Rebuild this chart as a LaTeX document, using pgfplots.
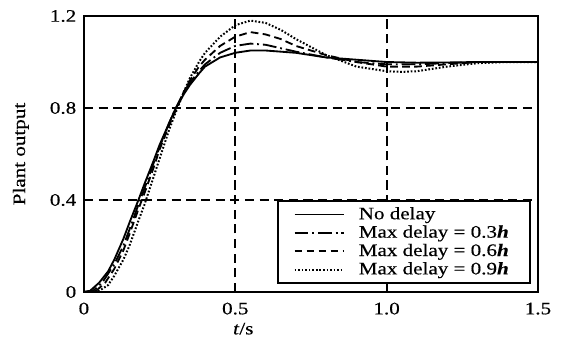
\documentclass[border=0pt]{standalone}
\usepackage{fontspec}
\setmainfont[FakeStretch=1.2, FakeBold=0.4]{Liberation Serif}
\usepackage{pgfplots}
\pgfplotsset{compat=1.18}
\begin{document}
\fontsize{11.4}{13.6}\selectfont
\begin{tikzpicture}
\useasboundingbox (-54.5pt,-29.2pt) rectangle (310.4pt,189.6pt);
\begin{axis}[
  at={(0pt,0pt)}, anchor=south west,
  scale only axis,
  width=294.8pt, height=179.2pt,
  xmin=0, xmax=1.5, ymin=0, ymax=1.2,
  xtick={0,0.5,1.0,1.5},
  xticklabels={0,0.5,1.0,1.5},
  ytick={0,0.4,0.8,1.2},
  yticklabels={0,0.4,0.8,1.2},
  major tick length=0pt,
  /pgf/number format/assume math mode=true,
  axis line style={line width=1.3pt},
  grid=major,
  major grid style={black, line width=1.4pt, dash pattern=on 6pt off 3.5pt},
  xlabel={\textit{t}/s},
  ylabel={Plant output},
  xlabel style={at={(axis description cs:0.351,0)}, anchor=base, yshift=-27.5pt},
  ylabel style={at={(axis description cs:-0.139,0.5)}, anchor=center},
  xticklabel style={anchor=base, yshift=-14.5pt},
  yticklabel style={xshift=-1pt},
  legend style={at={(axis description cs:0.985,0.333)}, anchor=north east,
    draw=black, line width=1.1pt, fill=white, row sep=0.3pt,
    inner xsep=10pt, inner ysep=3pt,
    nodes={inner xsep=4pt, inner ysep=1pt}},
  legend cell align=left,
  legend image code/.code={\draw[#1] (0pt,0pt) -- (32pt,0pt); \path (37pt,0pt);},
]
\addplot[black, line width=1.2pt] coordinates {
(0,0) (0.02,0.005) (0.05,0.04) (0.08,0.09) (0.1,0.14) (0.13,0.23) (0.15,0.30)
(0.18,0.40) (0.2,0.47) (0.23,0.57) (0.25,0.64) (0.28,0.73) (0.3,0.79)
(0.33,0.86) (0.35,0.90) (0.38,0.95) (0.4,0.98) (0.45,1.02) (0.5,1.04)
(0.55,1.05) (0.6,1.05) (0.65,1.045) (0.7,1.04) (0.8,1.02) (0.9,1.01)
(1.0,1.0) (1.1,0.997) (1.2,0.998) (1.3,1.0) (1.5,1.0)};
\addlegendentry{No delay}
\addplot[black, line width=1.2pt, dash pattern=on 9pt off 2.5pt on 1.2pt off 2.5pt] coordinates {
(0,0) (0.03,0.005) (0.06,0.04) (0.1,0.12) (0.13,0.2) (0.15,0.27) (0.18,0.38)
(0.2,0.45) (0.23,0.56) (0.25,0.63) (0.28,0.73) (0.3,0.79) (0.33,0.87)
(0.35,0.91) (0.38,0.96) (0.4,0.99) (0.45,1.04) (0.5,1.07) (0.55,1.08)
(0.6,1.075) (0.65,1.06) (0.7,1.045) (0.8,1.02) (0.9,1.0) (1.0,0.99)
(1.1,0.99) (1.2,0.995) (1.3,1.0) (1.5,1.0)};
\addlegendentry{Max delay = 0.3\textbf{\textit{h}}}
\addplot[black, line width=1.2pt, dash pattern=on 5pt off 2.8pt] coordinates {
(0,0) (0.04,0.005) (0.07,0.04) (0.1,0.10) (0.13,0.18) (0.15,0.25) (0.18,0.36)
(0.2,0.43) (0.23,0.54) (0.25,0.62) (0.28,0.72) (0.3,0.78) (0.33,0.87)
(0.35,0.92) (0.38,0.98) (0.4,1.01) (0.45,1.07) (0.5,1.11) (0.55,1.13)
(0.6,1.12) (0.65,1.10) (0.7,1.07) (0.8,1.03) (0.9,1.0) (1.0,0.98)
(1.1,0.98) (1.2,0.99) (1.3,1.0) (1.5,1.0)};
\addlegendentry{Max delay = 0.6\textbf{\textit{h}}}
\addplot[black, line width=1.3pt, dash pattern=on 1.1pt off 1.2pt] coordinates {
(0,0) (0.05,0.005) (0.08,0.03) (0.1,0.07) (0.13,0.14) (0.15,0.20) (0.18,0.31)
(0.2,0.38) (0.23,0.50) (0.25,0.58) (0.28,0.70) (0.3,0.77) (0.33,0.87)
(0.35,0.93) (0.38,1.0) (0.4,1.04) (0.45,1.11) (0.5,1.16) (0.55,1.18)
(0.6,1.17) (0.65,1.14) (0.7,1.10) (0.8,1.03) (0.9,0.98) (1.0,0.96)
(1.05,0.957) (1.1,0.96) (1.2,0.98) (1.3,0.995) (1.4,1.0) (1.5,1.0)};
\addlegendentry{Max delay = 0.9\textbf{\textit{h}}}
\end{axis}
\end{tikzpicture}
\end{document}
